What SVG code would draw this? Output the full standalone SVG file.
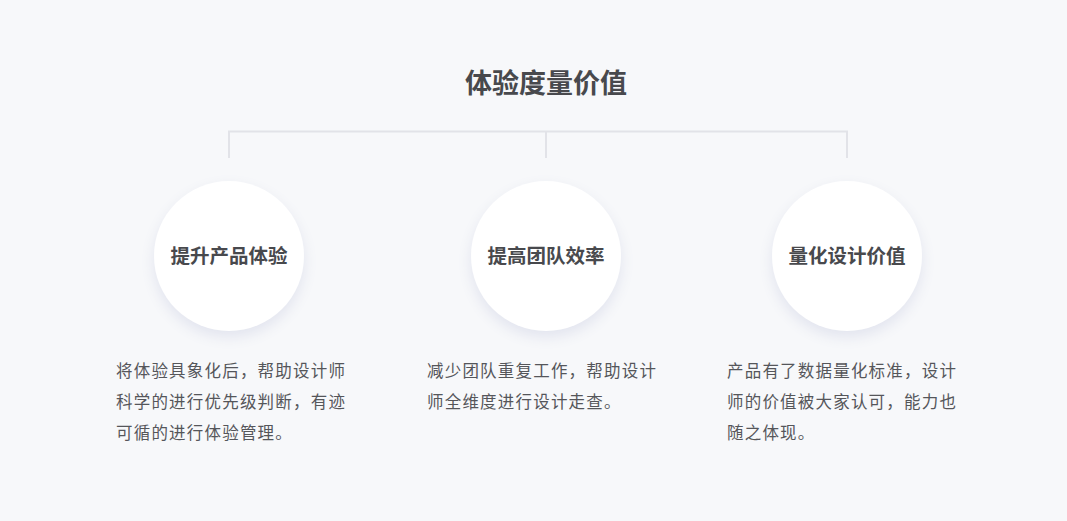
<svg xmlns="http://www.w3.org/2000/svg" width="1067" height="521" viewBox="0 0 1067 521">
<defs>
<filter id="sh" x="-30%" y="-30%" width="160%" height="170%">
<feDropShadow dx="0" dy="6" stdDeviation="7" flood-color="#c8cbe0" flood-opacity="0.45"/>
</filter>
<style>
.t{font-family:"Noto Sans CJK SC","Noto Sans",sans-serif;}
.title{font-size:27px;font-weight:bold;fill:#48494d;}
.lbl{font-size:19.5px;font-weight:bold;fill:#48494d;}
.desc{font-size:16.5px;letter-spacing:1.2px;fill:#55565a;}
.c{fill:#ffffff;filter:url(#sh);}
.ln{stroke:#e2e3e8;stroke-width:2;fill:none;}
</style>
</defs>
<rect width="1067" height="521" fill="#f7f8fa"/>
<text class="t title" x="546" y="93" text-anchor="middle">体验度量价值</text>
<g id="connectors">
<path class="ln" d="M229 158 V131.5 H847 V158 M546 131.5 V158"/>
</g>
<g id="node1">
<circle class="c" cx="229" cy="256" r="75"/>
<text class="t lbl" x="229" y="263" text-anchor="middle">提升产品体验</text>
<text class="t desc" x="116" y="377">将体验具象化后，帮助设计师</text>
<text class="t desc" x="116" y="408">科学的进行优先级判断，有迹</text>
<text class="t desc" x="116" y="439">可循的进行体验管理。</text>
</g>
<g id="node2">
<circle class="c" cx="546" cy="256" r="75"/>
<text class="t lbl" x="546" y="263" text-anchor="middle">提高团队效率</text>
<text class="t desc" x="427" y="377">减少团队重复工作，帮助设计</text>
<text class="t desc" x="427" y="408">师全维度进行设计走查。</text>
</g>
<g id="node3">
<circle class="c" cx="847" cy="256" r="75"/>
<text class="t lbl" x="847" y="263" text-anchor="middle">量化设计价值</text>
<text class="t desc" x="727" y="377">产品有了数据量化标准，设计</text>
<text class="t desc" x="727" y="408">师的价值被大家认可，能力也</text>
<text class="t desc" x="727" y="439">随之体现。</text>
</g>
</svg>
